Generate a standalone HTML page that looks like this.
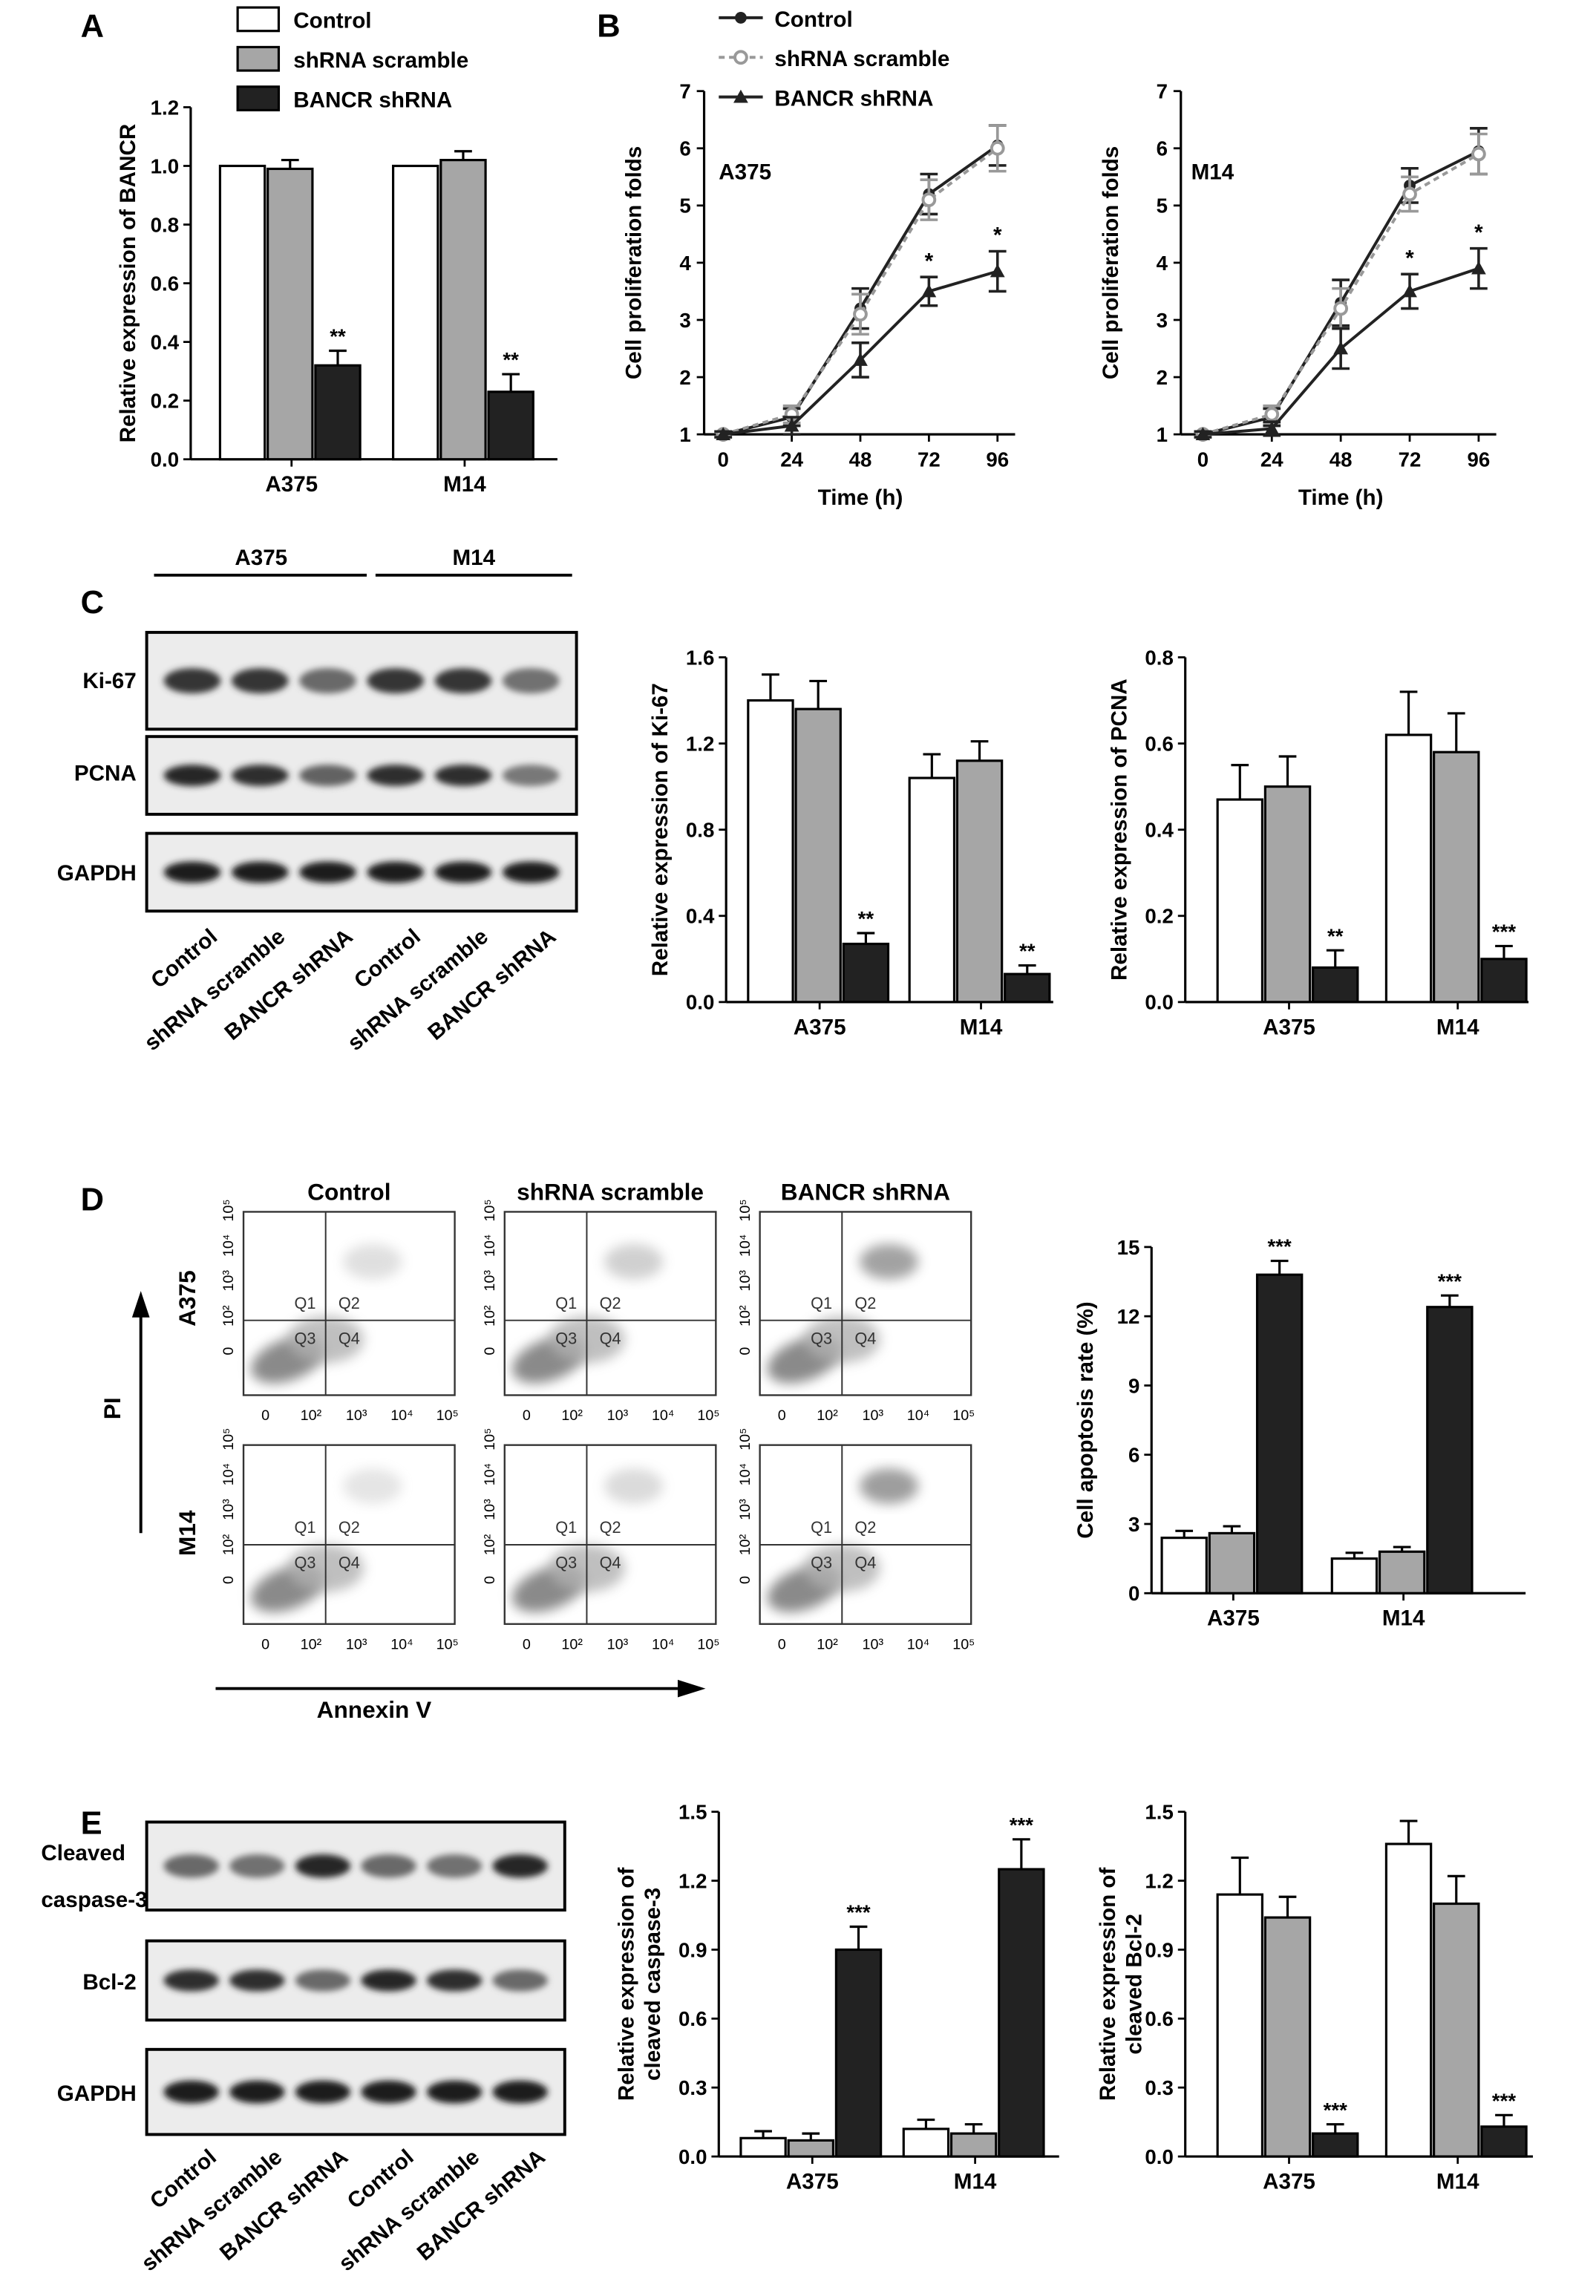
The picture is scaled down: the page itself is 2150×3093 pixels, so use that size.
<!DOCTYPE html>
<html><head><meta charset="utf-8">
<style>
html,body{margin:0;padding:0;background:#fff;}
svg{display:block;font-family:"Liberation Sans",Arial,sans-serif;}
</style></head>
<body>
<svg id="fig" width="2150" height="3093" viewBox="0 0 1088 1565" xmlns="http://www.w3.org/2000/svg">
<defs>
<filter id="blur" x="-20%" y="-50%" width="140%" height="200%"><feGaussianBlur stdDeviation="2.2"/></filter>
<filter id="blur2" x="-30%" y="-30%" width="160%" height="160%"><feGaussianBlur stdDeviation="4"/></filter>
</defs>
</svg>
<script>
const NS="http://www.w3.org/2000/svg";
const svg=document.getElementById('fig');
function el(tag,attrs,parent,text){const e=document.createElementNS(NS,tag);for(const k in attrs)e.setAttribute(k,attrs[k]);if(text!==undefined)e.textContent=text;(parent||svg).appendChild(e);return e;}

// ---- DATA ----
const groups=["A375","M14"];
const seriesNames=["Control","shRNA scramble","BANCR shRNA"];
const fills=["#ffffff","#a6a6a6","#222222"];
const bancrVals=[[1.0,0.99,0.32],[1.0,1.02,0.23]];
const bancrErr=[[0.0,0.03,0.05],[0.0,0.03,0.06]];
const bancrStars=[["","","**"],["","","**"]];
const ki67Vals=[[1.40,1.36,0.27],[1.04,1.12,0.13]];
const ki67Err=[[0.12,0.13,0.05],[0.11,0.09,0.04]];
const ki67Stars=[["","","**"],["","","**"]];
const pcnaVals=[[0.47,0.50,0.08],[0.62,0.58,0.10]];
const pcnaErr=[[0.08,0.07,0.04],[0.10,0.09,0.03]];
const pcnaStars=[["","","**"],["","","***"]];
const apopVals=[[2.4,2.6,13.8],[1.5,1.8,12.4]];
const apopErr=[[0.3,0.3,0.6],[0.25,0.2,0.5]];
const apopStars=[["","","***"],["","","***"]];
const caspVals=[[0.08,0.07,0.90],[0.12,0.10,1.25]];
const caspErr=[[0.03,0.03,0.10],[0.04,0.04,0.13]];
const caspStars=[["","","***"],["","","***"]];
const bclVals=[[1.14,1.04,0.10],[1.36,1.10,0.13]];
const bclErr=[[0.16,0.09,0.04],[0.10,0.12,0.05]];
const bclStars=[["","","***"],["","","***"]];
const timeCats=[0,24,48,72,96];
const a375Control=[1,1.3,3.2,5.2,6.05];
const a375Scramble=[1,1.35,3.1,5.1,6.0];
const a375Bancr=[1,1.15,2.3,3.5,3.85];
const a375Err=[[0.05,0.15,0.35,0.35,0.35],[0.05,0.15,0.35,0.35,0.4],[0.05,0.15,0.3,0.25,0.35]];
const m14Control=[1,1.3,3.3,5.35,5.95];
const m14Scramble=[1,1.35,3.2,5.2,5.9];
const m14Bancr=[1,1.1,2.5,3.5,3.9];
const m14Err=[[0.05,0.15,0.4,0.3,0.4],[0.05,0.15,0.35,0.3,0.35],[0.05,0.12,0.35,0.3,0.35]];
const lineStars=[["","","","*","*"]];

function barChart(name,cfg){
  const g=el('g',{});
  const y=v=>cfg.y0-(v-cfg.min)/(cfg.max-cfg.min)*(cfg.y0-cfg.y1);
  el('line',{x1:cfg.x0,y1:cfg.y1,x2:cfg.x0,y2:cfg.y0,stroke:'#000','stroke-width':1.6},g);
  el('line',{x1:cfg.x0,y1:cfg.y0,x2:cfg.x2,y2:cfg.y0,stroke:'#000','stroke-width':1.6},g);
  cfg.ticks.forEach((t,i)=>{const yy=y(t);
    el('line',{x1:cfg.x0-5,y1:yy,x2:cfg.x0,y2:yy,stroke:'#000','stroke-width':1.4},g);
    el('text',{x:cfg.x0-8,y:yy+5,'font-size':14,'font-weight':'bold','text-anchor':'end'},g,cfg.tickLabels[i]);
  });
  const yl=el('text',{x:0,y:0,'font-size':15,'font-weight':'bold','text-anchor':'middle',transform:`translate(${cfg.tx},${(cfg.y0+cfg.y1)/2}) rotate(-90)`},g);
  cfg.title.forEach((ln,i)=>{el('tspan',{x:0,dy:i?18:0},yl,ln);});
  groups.forEach((gname,gi)=>{
    const gx=cfg.gx[gi];
    cfg.vals[gi].forEach((v,si)=>{
      const bx=gx+si*cfg.bw;
      const r=el('rect',{x:bx,y:y(v),width:cfg.bw-2,height:cfg.y0-y(v),fill:fills[si],stroke:'#000','stroke-width':1.6},g);
      
      
      const e=cfg.err[gi][si];
      const cx=bx+(cfg.bw-2)/2;
      if(e>0){el('line',{x1:cx,y1:y(v),x2:cx,y2:y(v+e),stroke:'#000','stroke-width':1.6},g);
        el('line',{x1:cx-6,y1:y(v+e),x2:cx+6,y2:y(v+e),stroke:'#000','stroke-width':1.6},g);}
      const s=cfg.stars[gi][si];
      if(s)el('text',{x:cx,y:y(v+e)-5,'font-size':14,'font-weight':'bold','text-anchor':'middle'},g,s);
    });
    el('line',{x1:gx+1.5*cfg.bw,y1:cfg.y0,x2:gx+1.5*cfg.bw,y2:cfg.y0+5,stroke:'#000','stroke-width':1.4},g);
    el('text',{x:gx+1.5*cfg.bw,y:cfg.y0+22,'font-size':15,'font-weight':'bold','text-anchor':'middle'},g,gname);
  });
}

function lineChart(name,cfg){
  const g=el('g',{});
  const x=t=>cfg.xa+(t-0)/96*(cfg.xb-cfg.xa);
  const y=v=>cfg.y0-(v-1)/6*(cfg.y0-cfg.y1);
  el('line',{x1:cfg.x0,y1:cfg.y1,x2:cfg.x0,y2:cfg.y0,stroke:'#000','stroke-width':1.6},g);
  el('line',{x1:cfg.x0,y1:cfg.y0,x2:cfg.xb+12,y2:cfg.y0,stroke:'#000','stroke-width':1.6},g);
  for(let v=1;v<=7;v++){el('line',{x1:cfg.x0-5,y1:y(v),x2:cfg.x0,y2:y(v),stroke:'#000','stroke-width':1.4},g);
    el('text',{x:cfg.x0-9,y:y(v)+5,'font-size':14,'font-weight':'bold','text-anchor':'end'},g,String(v));}
  timeCats.forEach(t=>{el('line',{x1:x(t),y1:cfg.y0,x2:x(t),y2:cfg.y0+5,stroke:'#000','stroke-width':1.4},g);
    el('text',{x:x(t),y:cfg.y0+22,'font-size':14,'font-weight':'bold','text-anchor':'middle'},g,String(t));});
  el('text',{x:(cfg.xa+cfg.xb)/2,y:cfg.y0+48,'font-size':15,'font-weight':'bold','text-anchor':'middle'},g,'Time (h)');
  el('text',{x:0,y:0,'font-size':15,'font-weight':'bold','text-anchor':'middle',transform:`translate(${cfg.tx},${(cfg.y0+cfg.y1)/2}) rotate(-90)`},g,'Cell proliferation folds');
  el('text',{x:cfg.lx,y:cfg.y1+60,'font-size':15,'font-weight':'bold'},g,cfg.label);
  const styles=[{c:'#222',d:'',m:'circle'},{c:'#999',d:'4,3',m:'ring'},{c:'#222',d:'',m:'tri'}];
  cfg.series.forEach((s,si)=>{
    const st=styles[si];
    const pts=s.map((v,i)=>x(timeCats[i])+','+y(v)).join(' ');
    const pl=el('polyline',{points:pts,fill:'none',stroke:st.c,'stroke-width':2,'stroke-dasharray':st.d},g);
    
    
    s.forEach((v,i)=>{const px=x(timeCats[i]),py=y(v),e=cfg.err[si][i];
      el('line',{x1:px,y1:y(v-e),x2:px,y2:y(v+e),stroke:st.c,'stroke-width':1.8},g);
      el('line',{x1:px-6,y1:y(v+e),x2:px+6,y2:y(v+e),stroke:st.c,'stroke-width':1.8},g);
      el('line',{x1:px-6,y1:y(v-e),x2:px+6,y2:y(v-e),stroke:st.c,'stroke-width':1.8},g);
      if(st.m==='circle')el('circle',{cx:px,cy:py,r:4,fill:st.c},g);
      else if(st.m==='ring')el('circle',{cx:px,cy:py,r:4,fill:'#fff',stroke:st.c,'stroke-width':2},g);
      else el('polygon',{points:`${px},${py-5} ${px-5},${py+4} ${px+5},${py+4}`,fill:st.c},g);
      if(si===2&&lineStars[0][i])el('text',{x:px,y:y(v+e)-6,'font-size':15,'font-weight':'bold','text-anchor':'middle'},g,lineStars[0][i]);
    });
  });
}

[['A',55,25],['B',407,25],['C',55,418],['D',55,825],['E',55,1250]].forEach(p=>{
  const t=el('text',{x:p[1],y:p[2],'font-size':22,'font-weight':'bold'},svg,p[0]);
  
  
});

const legA=el('g',{});
seriesNames.forEach((n,i)=>{el('rect',{x:162,y:5+i*27,width:28,height:16,fill:fills[i],stroke:'#000','stroke-width':1.6},legA);
  el('text',{x:200,y:19+i*27,'font-size':15,'font-weight':'bold'},legA,n);});
const legB=el('g',{});
el('line',{x1:490,y1:12,x2:520,y2:12,stroke:'#222','stroke-width':2},legB);el('circle',{cx:505,cy:12,r:4,fill:'#222'},legB);
el('line',{x1:490,y1:39,x2:520,y2:39,stroke:'#999','stroke-width':2,'stroke-dasharray':'4,3'},legB);el('circle',{cx:505,cy:39,r:4,fill:'#fff',stroke:'#999','stroke-width':2},legB);
el('line',{x1:490,y1:66,x2:520,y2:66,stroke:'#222','stroke-width':2},legB);el('polygon',{points:'505,61 500,70 510,70',fill:'#222'},legB);
seriesNames.forEach((n,i)=>el('text',{x:528,y:18+i*27,'font-size':15,'font-weight':'bold'},legB,n));

barChart('chart-bancr-expression',{x0:130,x2:380,y0:313,y1:73,min:0,max:1.2,ticks:[0,0.2,0.4,0.6,0.8,1.0,1.2],tickLabels:['0.0','0.2','0.4','0.6','0.8','1.0','1.2'],title:['Relative expression of BANCR'],tx:92,gx:[150,268],bw:32.5,vals:bancrVals,err:bancrErr,stars:bancrStars});

lineChart('chart-proliferation-a375',{x0:480,xa:493,xb:680,y0:296,y1:62,tx:437,lx:490,label:'A375',series:[a375Control,a375Scramble,a375Bancr],err:a375Err});
lineChart('chart-proliferation-m14',{x0:805,xa:820,xb:1008,y0:296,y1:62,tx:762,lx:812,label:'M14',series:[m14Control,m14Scramble,m14Bancr],err:m14Err});

function blot(name,x,y,w,h,intens){
  const g=el('g',{});
  el('rect',{x:x,y:y,width:w,height:h,fill:'#ececec',stroke:'#000','stroke-width':2},g);
  const lw=(w-16)/6;
  intens.forEach((it,i)=>{const c=Math.round(30+(1-it)*150);
    el('ellipse',{cx:x+8+lw*(i+0.5),cy:y+h/2,rx:lw*0.42,ry:h*0.1+2,fill:`rgb(${c},${c},${c})`,filter:'url(#blur)'},g);});
}
function blotLabelsBottom(name,x,y,w){
  const g=el('g',{});
  const lw=(w-16)/6;
  for(let i=0;i<6;i++){const cx=x+8+lw*(i+0.5)+18;
    el('text',{x:0,y:0,'font-size':15,'font-weight':'bold','text-anchor':'end',transform:`translate(${cx},${y}) rotate(-40)`},g,seriesNames[i%3]);}
}
el('line',{x1:105,y1:392,x2:250,y2:392,stroke:'#000','stroke-width':2});
el('line',{x1:256,y1:392,x2:390,y2:392,stroke:'#000','stroke-width':2});
el('text',{x:178,y:385,'font-size':15,'font-weight':'bold','text-anchor':'middle'},svg,'A375');
el('text',{x:323,y:385,'font-size':15,'font-weight':'bold','text-anchor':'middle'},svg,'M14');
blot('blot-ki67',100,431,293,66,[0.85,0.85,0.5,0.85,0.85,0.45]);
blot('blot-pcna',100,502,293,53,[0.95,0.9,0.55,0.9,0.9,0.4]);
blot('blot-gapdh',100,568,293,53,[1,1,1,1,1,1]);
[['Ki-67',469],['PCNA',532],['GAPDH',600]].forEach(l=>el('text',{x:93,y:l[1],'font-size':15,'font-weight':'bold','text-anchor':'end'},svg,l[0]));
blotLabelsBottom('blot-c-lane-labels',100,640,293);

barChart('chart-ki67',{x0:495,x2:718,y0:683,y1:448,min:0,max:1.6,ticks:[0,0.4,0.8,1.2,1.6],tickLabels:['0.0','0.4','0.8','1.2','1.6'],title:['Relative expression of Ki-67'],tx:455,gx:[510,620],bw:32.5,vals:ki67Vals,err:ki67Err,stars:ki67Stars});
barChart('chart-pcna',{x0:808,x2:1042,y0:683,y1:448,min:0,max:0.8,ticks:[0,0.2,0.4,0.6,0.8],tickLabels:['0.0','0.2','0.4','0.6','0.8'],title:['Relative expression of PCNA'],tx:768,gx:[830,945],bw:32.5,vals:pcnaVals,err:pcnaErr,stars:pcnaStars});

// D flow plots
const flowCols=[166,344,518], flowRows=[826,985], flowH=[125,122], flowHL=[74,68];
const flowTitles=["Control","shRNA scramble","BANCR shRNA"];
flowTitles.forEach((t,i)=>el('text',{x:flowCols[i]+72,y:818,'font-size':16,'font-weight':'bold','text-anchor':'middle'},svg,t));
const q2Int=[[0.3,0.45,0.9],[0.25,0.35,0.95]];
flowRows.forEach((ry,ri)=>flowCols.forEach((cx,ci)=>{
  const g=el('g',{});
  const w=144,h=flowH[ri],hl=flowHL[ri];
  el('rect',{x:cx,y:ry,width:w,height:h,fill:'#fff',stroke:'#333','stroke-width':1.2},g);
  el('ellipse',{cx:cx+30,cy:ry+h-24,rx:26,ry:14,fill:'#8a8a8a',filter:'url(#blur2)',transform:`rotate(-20 ${cx+30} ${ry+h-24})`},g);
  el('ellipse',{cx:cx+56,cy:ry+h-38,rx:26,ry:16,fill:'#b0b0b0',opacity:0.8,filter:'url(#blur2)'},g);
  const q=q2Int[ri][ci];
  el('ellipse',{cx:cx+88,cy:ry+hl-40,rx:20,ry:12,fill:'#999',opacity:q,filter:'url(#blur2)'},g);
  el('line',{x1:cx+56,y1:ry,x2:cx+56,y2:ry+h,stroke:'#333','stroke-width':1},g);
  el('line',{x1:cx,y1:ry+hl,x2:cx+w,y2:ry+hl,stroke:'#333','stroke-width':1},g);
  [['Q1',42,-8],['Q2',72,-8],['Q3',42,16],['Q4',72,16]].forEach(qq=>el('text',{x:cx+qq[1],y:ry+hl+qq[2],'font-size':11,fill:'#333','text-anchor':'middle'},g,qq[0]));
  ['0','10²','10³','10⁴','10⁵'].forEach((l,k)=>el('text',{x:cx+15+k*31,y:ry+h+17,'font-size':10,'text-anchor':'middle'},g,l));
  ['0','10²','10³','10⁴','10⁵'].forEach((l,k)=>el('text',{x:0,y:0,'font-size':10,'text-anchor':'middle',transform:`translate(${cx-7},${ry+h-30-k*24}) rotate(-90)`},g,l));
}));
el('text',{x:0,y:0,'font-size':16,'font-weight':'bold','text-anchor':'middle',transform:'translate(133,885) rotate(-90)'},svg,'A375');
el('text',{x:0,y:0,'font-size':16,'font-weight':'bold','text-anchor':'middle',transform:'translate(133,1045) rotate(-90)'},svg,'M14');
el('line',{x1:96,y1:1045,x2:96,y2:895,stroke:'#000','stroke-width':2});
el('polygon',{points:'96,880 90,898 102,898',fill:'#000'});
el('text',{x:0,y:0,'font-size':16,'font-weight':'bold','text-anchor':'middle',transform:'translate(82,960) rotate(-90)'},svg,'PI');
el('line',{x1:147,y1:1151,x2:462,y2:1151,stroke:'#000','stroke-width':2});
el('polygon',{points:'481,1151 462,1145 462,1157',fill:'#000'});
el('text',{x:255,y:1171,'font-size':16,'font-weight':'bold','text-anchor':'middle'},svg,'Annexin V');

barChart('chart-apoptosis',{x0:785,x2:1040,y0:1086,y1:850,min:0,max:15,ticks:[0,3,6,9,12,15],tickLabels:['0','3','6','9','12','15'],title:['Cell apoptosis rate (%)'],tx:745,gx:[792,908],bw:32.5,vals:apopVals,err:apopErr,stars:apopStars});

blot('blot-cleaved-caspase3',100,1242,285,60,[0.5,0.45,0.95,0.5,0.45,0.95]);
blot('blot-bcl2',100,1323,285,54,[0.9,0.9,0.5,0.95,0.9,0.5]);
blot('blot-gapdh-e',100,1397,285,58,[1,1,1,1,1,1]);
el('text',{x:28,y:1268,'font-size':15,'font-weight':'bold'},svg,'Cleaved');
el('text',{x:28,y:1300,'font-size':15,'font-weight':'bold'},svg,'caspase-3');
el('text',{x:93,y:1356,'font-size':15,'font-weight':'bold','text-anchor':'end'},svg,'Bcl-2');
el('text',{x:93,y:1432,'font-size':15,'font-weight':'bold','text-anchor':'end'},svg,'GAPDH');
blotLabelsBottom('blot-e-lane-labels',100,1472,285);

barChart('chart-cleaved-caspase3',{x0:490,x2:722,y0:1470,y1:1235,min:0,max:1.5,ticks:[0,0.3,0.6,0.9,1.2,1.5],tickLabels:['0.0','0.3','0.6','0.9','1.2','1.5'],title:['Relative expression of','cleaved caspase-3'],tx:432,gx:[505,616],bw:32.5,vals:caspVals,err:caspErr,stars:caspStars});
barChart('chart-cleaved-bcl2',{x0:808,x2:1045,y0:1470,y1:1235,min:0,max:1.5,ticks:[0,0.3,0.6,0.9,1.2,1.5],tickLabels:['0.0','0.3','0.6','0.9','1.2','1.5'],title:['Relative expression of','cleaved Bcl-2'],tx:760,gx:[830,945],bw:32.5,vals:bclVals,err:bclErr,stars:bclStars});
</script>
</body></html>
